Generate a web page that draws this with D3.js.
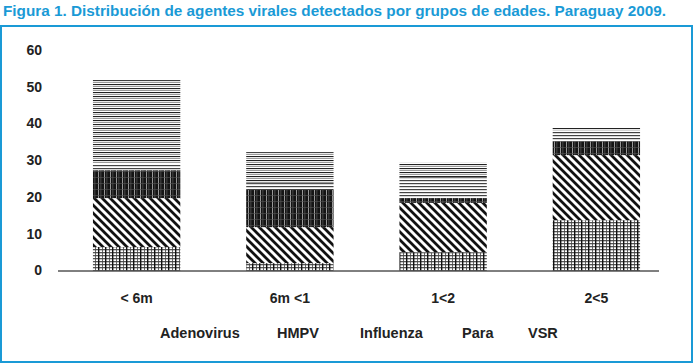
<!DOCTYPE html>
<html>
<head>
<meta charset="utf-8">
<style>
  body { margin: 0; background: #fff; }
  text { font-family: "Liberation Sans", Arial, sans-serif; font-weight: bold; }
  .title { fill: #1a9ad6; font-size: 14.5px; }
  .tick { fill: #222; font-size: 14px; }
  .legend { fill: #222; font-size: 14.5px; }
</style>
</head>
<body>
<svg width="694" height="364"></svg>
<script src="https://cdnjs.cloudflare.com/ajax/libs/d3/7.8.5/d3.min.js"></script>
<script>
var groups = ["< 6m", "6m <1", "1<2", "2<5"];
var series = ["Adenovirus", "HMPV", "Influenza", "Para", "VSR"];
// valores por grupo de edad (orden de series de abajo hacia arriba)
var adenovirus = [6.4, 2.0, 5.0, 13.7];
var hmpv       = [13.3, 9.8, 13.4, 17.7];
var influenza  = [7.6, 10.1, 1.3, 3.8];
var para       = [1.7, 1.9, 5.7, 3.0];
var vsr        = [22.8, 8.4, 3.9, 0.8];
var yTicks = [0, 10, 20, 30, 40, 50, 60];

var svg = d3.select("svg");

var rows = groups.map(function(g, i) {
  return { group: g, Adenovirus: adenovirus[i], HMPV: hmpv[i], Influenza: influenza[i], Para: para[i], VSR: vsr[i] };
});
var stacked = d3.stack().keys(series)(rows);

var x = d3.scaleBand().domain(groups).range([60, 673]).paddingInner(0.43).paddingOuter(0.215);
var y = d3.scaleLinear().domain([0, 60]).range([270.5, 50]);

// patrones de relleno
var defs = svg.append("defs");

var p1 = defs.append("pattern").attr("id", "pat-Adenovirus").attr("patternUnits", "userSpaceOnUse")
  .attr("width", 7).attr("height", 3);
p1.append("rect").attr("width", 7).attr("height", 3).attr("fill", "#fff");
p1.append("rect").attr("y", 0).attr("width", 7).attr("height", 1.3).attr("fill", "#555");
p1.append("rect").attr("x", 0).attr("width", 1.4).attr("height", 3).attr("fill", "#111");
p1.append("rect").attr("x", 4).attr("width", 0.8).attr("height", 3).attr("fill", "#444");

var p2 = defs.append("pattern").attr("id", "pat-HMPV").attr("patternUnits", "userSpaceOnUse")
  .attr("width", 8).attr("height", 8);
p2.append("rect").attr("width", 8).attr("height", 8).attr("fill", "#fff");
p2.append("path").attr("d", "M-2,-2L10,10M-2,6L2,10M6,-2L10,2")
  .attr("stroke", "#111").attr("stroke-width", 2.8);

var p3 = defs.append("pattern").attr("id", "pat-Influenza").attr("patternUnits", "userSpaceOnUse")
  .attr("width", 6).attr("height", 6);
p3.append("rect").attr("width", 6).attr("height", 6).attr("fill", "#141414");
p3.append("rect").attr("x", 2).attr("width", 1).attr("height", 6).attr("fill", "#999");
p3.append("rect").attr("x", 4.6).attr("width", 0.6).attr("height", 6).attr("fill", "#666");
p3.append("rect").attr("y", 3).attr("width", 6).attr("height", 0.6).attr("fill", "#555");

var p4 = defs.append("pattern").attr("id", "pat-Para").attr("patternUnits", "userSpaceOnUse")
  .attr("width", 4).attr("height", 3);
p4.append("rect").attr("width", 4).attr("height", 3).attr("fill", "#fff");
p4.append("rect").attr("width", 4).attr("height", 1.2).attr("fill", "#444");

var p5 = defs.append("pattern").attr("id", "pat-VSR").attr("patternUnits", "userSpaceOnUse")
  .attr("width", 4).attr("height", 4);
p5.append("rect").attr("width", 4).attr("height", 4).attr("fill", "#fff");
p5.append("rect").attr("width", 4).attr("height", 1.1).attr("fill", "#222");
p5.append("rect").attr("y", 2).attr("width", 4).attr("height", 1).attr("fill", "#999");

// titulo y marco
svg.append("text").attr("class", "title").attr("x", 3).attr("y", 16)
  .attr("textLength", 663).attr("lengthAdjust", "spacingAndGlyphs")
  .text("Figura 1. Distribución de agentes virales detectados por grupos de edades. Paraguay 2009.");
svg.append("rect").attr("x", 1).attr("y", 26).attr("width", 691).attr("height", 336)
  .attr("fill", "none").attr("stroke", "#1a9ad6").attr("stroke-width", 2);

// barras apiladas
svg.selectAll("g.layer").data(stacked).enter().append("g")
  .attr("class", "layer")
  .attr("fill", function(d) { return "url(#pat-" + d.key + ")"; })
  .selectAll("rect").data(function(d) { return d; }).enter().append("rect")
  .attr("x", function(d) { return x(d.data.group); })
  .attr("width", x.bandwidth())
  .attr("y", function(d) { return y(d[1]); })
  .attr("height", function(d) { return y(d[0]) - y(d[1]); });

// eje y (solo etiquetas)
svg.selectAll("text.ytick").data(yTicks).enter().append("text")
  .attr("class", "tick").attr("x", 42).attr("y", function(d) { return y(d); })
  .attr("dy", "0.35em").attr("text-anchor", "end").text(function(d) { return d; });

// linea base
svg.append("line").attr("x1", 58).attr("x2", 659).attr("y1", y(0) + 0.5).attr("y2", y(0) + 0.5)
  .attr("stroke", "#000").attr("stroke-width", 1);

// etiquetas de categoria
svg.selectAll("text.xtick").data(groups).enter().append("text")
  .attr("class", "tick").attr("x", function(d) { return x(d) + x.bandwidth() / 2; })
  .attr("y", 303).attr("text-anchor", "middle").text(function(d) { return d; });

// leyenda
var legendX = [160, 277, 360, 462, 528];
svg.selectAll("text.legend").data(series).enter().append("text")
  .attr("class", "legend").attr("x", function(d, i) { return legendX[i]; })
  .attr("y", 338).text(function(d) { return d; });
</script>
</body>
</html>
